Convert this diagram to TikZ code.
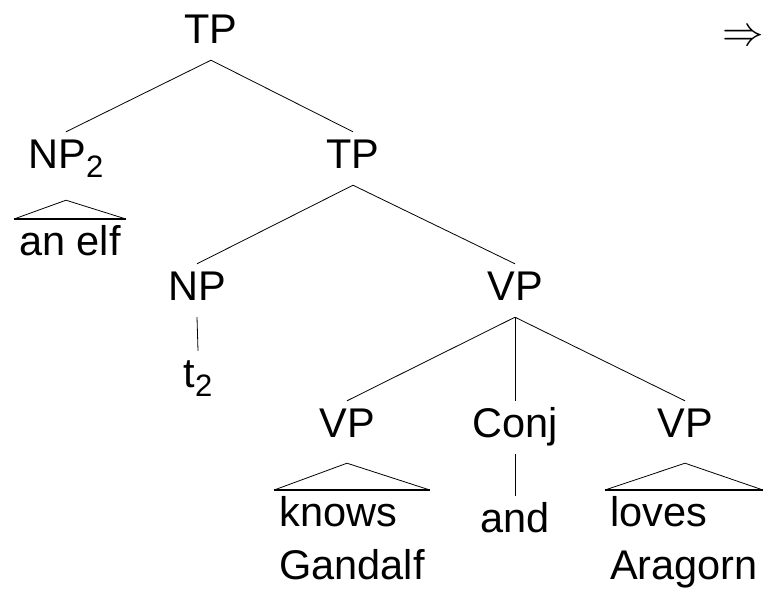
\RequirePackage{fix-cm}
\documentclass[tikz,border=0pt]{standalone}
\usepackage{fontspec}
\setmainfont{Liberation Sans}
\usepackage{tikz}
\usetikzlibrary{positioning, calc}

\newcommand{\idx}[1]{\raisebox{-9pt}{\fontsize{31}{31}\selectfont #1}}

\tikzset{
  cat/.style={anchor=base, inner sep=3pt, text height=33pt, text depth=14pt},
  word/.style={anchor=north, align=left, inner xsep=5pt, inner ysep=6pt},
  branch/.style={line width=0.8pt},
  roofside/.style={line width=0.8pt},
  roofbase/.style={line width=1.6pt}
}

\begin{document}
\begin{tikzpicture}[x=1pt, y=-1pt, font=\fontsize{41.5}{53}\selectfont]
  \useasboundingbox (0,0) rectangle (770,589);

  % categories
  \node[cat] (tp)    at (211,43)  {TP};
  \node[cat] (np2)   at (66,168)  {NP\idx{2}};
  \node[cat] (tpb)   at (353,168) {TP};
  \node[cat] (np)    at (197,300) {NP};
  \node[cat] (vp)    at (515,300) {VP};
  \node[cat] (vpa)   at (347,437) {VP};
  \node[cat] (conj)  at (515,437) {Conj};
  \node[cat] (vpb)   at (685,437) {VP};

  % words
  \node[word] (elf)    at (70,219)  {an elf};
  \node[word] (knows)  at (352,490) {knows\\Gandalf};
  \node[word] (loves)  at (684,490) {loves\\Aragorn};
  \node[cat]  (trace)  at (198,387) {t\idx{2}};
  \node[cat]  (and)    at (515,532) {and};

  \node (arrow) at (743,38) {$\Rightarrow$};

  % branches
  \draw[branch] (tp.south) -- (np2.north);
  \draw[branch] (tp.south) -- (tpb.north);
  \draw[branch] (tpb.south) -- (np.north);
  \draw[branch] (tpb.south) -- (vp.north);
  \draw[branch] (np.south) -- (trace.north);
  \draw[branch] (vp.south) -- (vpa.north);
  \draw[branch] (vp.south) -- (conj.north);
  \draw[branch] (vp.south) -- (vpb.north);
  \draw[branch] (conj.south) -- (and.north);

  % roofs
  \draw[roofside] (elf.north west) -- ([yshift=-15pt]np2.south) -- (elf.north east);
  \draw[roofbase] (elf.north west) -- (elf.north east);
  \draw[roofside] (knows.north west) -- ([yshift=-9pt]vpa.south) -- (knows.north east);
  \draw[roofbase] (knows.north west) -- (knows.north east);
  \draw[roofside] (loves.north west) -- ([yshift=-9pt]vpb.south) -- (loves.north east);
  \draw[roofbase] (loves.north west) -- (loves.north east);
\end{tikzpicture}
\end{document}
